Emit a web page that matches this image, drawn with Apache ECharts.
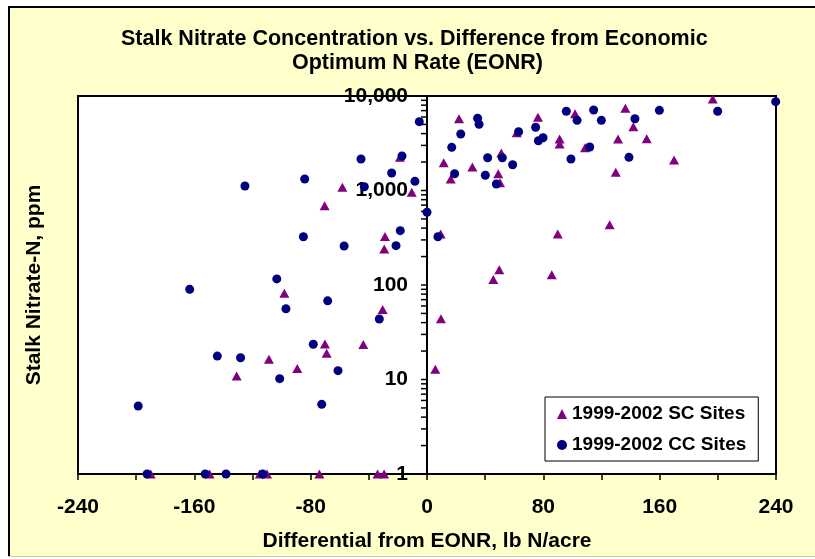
<!DOCTYPE html>
<html><head><meta charset="utf-8">
<script src="https://cdn.jsdelivr.net/npm/echarts@6/dist/echarts.min.js"></script>
<style>html,body{margin:0;padding:0;background:#fff}#c{width:815px;height:559px}</style>
</head><body><div id="c"></div>
<script>
// ---- data ----
const titleLines = ['Stalk Nitrate Concentration vs. Difference from Economic', 'Optimum N Rate (EONR)'];
const xName = 'Differential from EONR, lb N/acre';
const yName = 'Stalk Nitrate-N, ppm';
const seriesNames = ['1999-2002 SC Sites', '1999-2002 CC Sites'];

const scX = [-18.6,-58.2,-70.4,-10.5,-28.9,-29.4,-98.1,-30.5,-70.2,-69,-43.8,-108.7,-89.2,-130.9,
  -190,-149.5,-115,-110,-74,-34,-29.5,
  5.7,9.6,9.4,11.5,16.3,22,31.2,45.6,49.7,49,50.2,51.1,61.7,76.3,85.8,89.9,91.2,91.2,101.8,108.7,
  125.6,129.8,131.4,136.4,141.9,151.1,169.9,196.5];
const scY = [2245,1082,690,957,327,240,82,55,23.8,18.9,23.4,16.4,13.1,10.9,
  1,1,1,1,1,1,1,
  12.8,44,347,1968,1324,5750,1774,114,145,1506,1210,2495,4080,5950,128,347,3510,3100,6500,2830,
  435,1558,3510,7410,4730,3530,2100,9290];

const ccX = [-5.3,-17.2,-45.4,-24.3,-84.1,-125.2,-43.1,-8.3,0,7.5,-85,-57,-21.3,-18.4,-103.3,-163.2,
  -97,-68.3,-32.8,-144.2,-128.2,-78.2,-101.3,-61.2,-198.6,-72.4,
  -192.5,-152.5,-138.2,-113,
  34.8,35.8,23.2,17,41.7,51.8,19,40.1,47.7,58.9,63,74.7,76.6,79.8,95.8,103.2,114.6,119.9,111.9,99,
  143,138.9,159.8,199.9,239.8];
const ccY = [5350,2317,2155,1531,1324,1116,1097,1250,588,324,324,259,261,376,116,90,
  56,68,43.7,17.7,17,23.6,10.2,12.4,5.24,5.46,
  1,1,1,1,
  5810,5010,3967,2863,2223,2223,1506,1449,1172,1875,4190,4665,3365,3620,6890,5530,7110,5530,2885,2155,
  5750,2245,7050,6890,8710];

const xMin = -240, xMax = 240, xInterval = 80;
const yMin = 1, yMax = 10000;
const yTickValues = [];
[1,10,100,1000].forEach(d => { for (let k = 1; k <= 9; k++) yTickValues.push(k * d); });
yTickValues.push(10000);

// ---- chart ----
const FONT = '"Liberation Sans", Arial, sans-serif';
const zip = (xs, ys) => xs.map((x, i) => [x, ys[i]]);
const titleStyle = {fontFamily: FONT, fontSize: 21.5, fontWeight: 'bold', color: '#000'};
const axisText = {fontSize: 21, fontWeight: 'bold', color: '#000', fontFamily: FONT};
const chart = echarts.init(document.getElementById('c'), null, {renderer: 'canvas'});
chart.setOption({
  backgroundColor: '#FFFFCC',
  animation: false,
  textStyle: {fontFamily: FONT},
  graphic: [
    {type: 'rect', shape: {x: 0, y: 0, width: 815, height: 6}, style: {fill: '#fff'}, silent: true},
    {type: 'rect', shape: {x: 0, y: 0, width: 8, height: 559}, style: {fill: '#fff'}, silent: true},
    {type: 'rect', shape: {x: 0, y: 557, width: 815, height: 2}, style: {fill: '#fff'}, silent: true},
    {type: 'line', shape: {x1: 8, y1: 7, x2: 815, y2: 7}, style: {stroke: '#000', lineWidth: 2}, silent: true},
    {type: 'line', shape: {x1: 9, y1: 6, x2: 9, y2: 557}, style: {stroke: '#000', lineWidth: 2}, silent: true},
    {type: 'line', shape: {x1: 8, y1: 556.5, x2: 815, y2: 556.5}, style: {stroke: '#c8c8b0', lineWidth: 1}, silent: true}
  ],
  title: [
    {text: titleLines[0], left: 121, top: 28, padding: 0, textStyle: titleStyle},
    {text: titleLines[1], left: 292, top: 52, padding: 0, textStyle: titleStyle}
  ],
  legend: {
    orient: 'vertical', left: 545, top: 397,
    padding: [7, 12, 6, 12], itemGap: 11, itemWidth: 10, itemHeight: 10,
    backgroundColor: '#fff', borderColor: '#000', borderWidth: 1, borderRadius: 0,
    data: [{name: seriesNames[0], icon: 'triangle'}, {name: seriesNames[1], icon: 'circle'}],
    textStyle: {fontFamily: FONT, fontSize: 19, fontWeight: 'bold', color: '#000', lineHeight: 20}
  },
  grid: {left: 78, right: 39, top: 96, bottom: 85, show: true, backgroundColor: '#fff',
    borderColor: '#000', borderWidth: 2, containLabel: false, outerBoundsMode: 'none'},
  xAxis: {
    type: 'value', min: xMin, max: xMax, interval: xInterval,
    axisLine: {onZero: false, lineStyle: {color: '#000', width: 2}},
    axisTick: {show: true, length: 6, lineStyle: {color: '#000', width: 1.5}},
    minorTick: {show: true, splitNumber: 2, length: 6, lineStyle: {color: '#000', width: 1.5}},
    splitLine: {show: false},
    axisLabel: Object.assign({margin: 23}, axisText),
    name: xName, nameLocation: 'middle', nameGap: 57,
    nameTextStyle: axisText
  },
  yAxis: {
    type: 'log', logBase: 10, min: yMin, max: yMax,
    axisLine: {show: true, onZero: true, lineStyle: {color: '#000', width: 2}},
    axisTick: {show: false},
    splitLine: {show: false},
    axisLabel: Object.assign({margin: -330,
      formatter: v => Math.round(v).toLocaleString('en-US')}, axisText),
    name: yName, nameLocation: 'middle', nameGap: 33,
    nameTextStyle: axisText
  },
  series: [
    {
      type: 'custom', name: 'yTicks', silent: true, clip: false, z: 3,
      data: yTickValues.map(v => [0, v]),
      renderItem: (params, api) => {
        const p = api.coord([api.value(0), api.value(1)]);
        return {type: 'line', shape: {x1: p[0] - 6, y1: p[1], x2: p[0], y2: p[1]},
          style: {stroke: '#000', lineWidth: 1.5}};
      }
    },
    {
      type: 'scatter', name: seriesNames[0], symbol: 'triangle', symbolSize: [10, 9],
      itemStyle: {color: '#800080', opacity: 1}, data: zip(scX, scY), z: 4, clip: false
    },
    {
      type: 'scatter', name: seriesNames[1], symbol: 'circle', symbolSize: 9,
      itemStyle: {color: '#000080', opacity: 1}, data: zip(ccX, ccY), z: 5, clip: false
    }
  ]
});
</script></body></html>
